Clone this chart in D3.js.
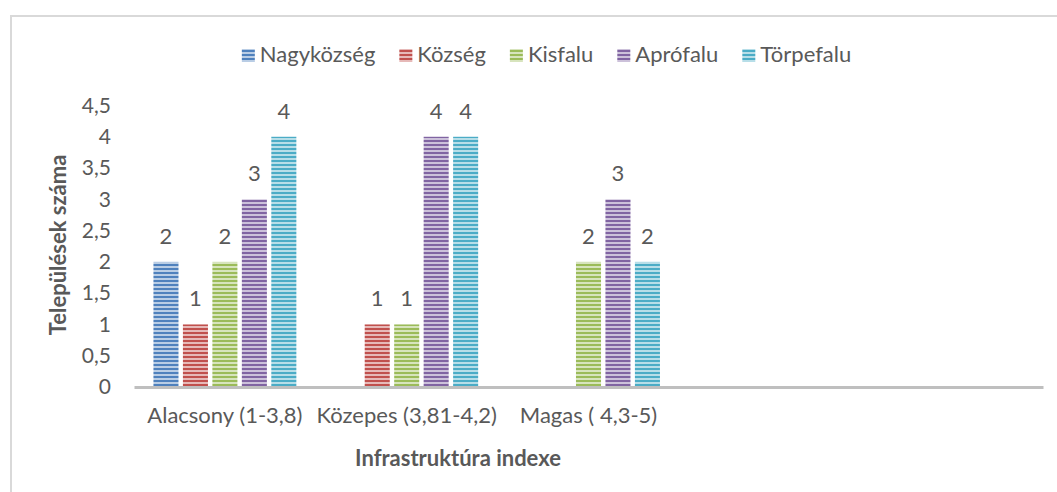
<!DOCTYPE html>
<html>
<head>
<meta charset="utf-8">
<script src="https://cdn.jsdelivr.net/npm/d3@7"></script>
<style>
  html, body { margin: 0; padding: 0; background: #fff; }
  svg { display: block; }
  text { font-family: Lato, "Open Sans", sans-serif; fill: #595959; }
</style>
</head>
<body>
<svg id="chart" width="1057" height="492"></svg>
<script>
const categories = ["Alacsony (1-3,8)", "Közepes (3,81-4,2)", "Magas ( 4,3-5)", "", ""];
const seriesNames = ["Nagyközség", "Község", "Kisfalu", "Aprófalu", "Törpefalu"];
const nagykozseg = [2, null, null, null, null];
const kozseg     = [1, 1, null, null, null];
const kisfalu    = [2, 1, 2, null, null];
const aprofalu   = [3, 4, 3, null, null];
const torpefalu  = [4, 4, 2, null, null];
const seriesValues = [nagykozseg, kozseg, kisfalu, aprofalu, torpefalu];
const seriesColors = ["#4F81BD", "#C0504D", "#9BBB59", "#8064A2", "#4BACC6"];
const yTicks = [0, 0.5, 1, 1.5, 2, 2.5, 3, 3.5, 4, 4.5];
const yTitle = "Települések száma";
const xTitle = "Infrastruktúra indexe";

const svg = d3.select("#chart");
const fmt = v => String(v).replace(".", ",");

// outer chart border (extends beyond the window on right/bottom)
svg.append("path")
  .attr("d", "M11,500 L11,16 L1070,16")
  .attr("fill", "none").attr("stroke", "#d9d9d9").attr("stroke-width", 2);

// patterns
const defs = svg.append("defs");
seriesNames.forEach((s, i) => {
  const c = seriesColors[i];
  const p = defs.append("pattern").attr("id", "pat" + i)
    .attr("patternUnits", "userSpaceOnUse").attr("width", 4).attr("height", 4);
  p.append("rect").attr("width", 4).attr("height", 4).attr("fill", d3.interpolateRgb(c, "#fff")(0.6));
  p.append("rect").attr("width", 4).attr("height", 2).attr("fill", c);
});

const x0 = d3.scaleBand().domain(d3.range(categories.length)).range([134, 1043]);
const x1 = d3.scaleBand().domain(seriesNames).range([0, x0.bandwidth()]).paddingInner(0.15).paddingOuter(0.66);
const y = d3.scaleLinear().domain([0, 4.5]).range([387, 105.5]);

// y axis labels
const yAxis = svg.append("g").attr("transform", "translate(111,0)")
  .call(d3.axisLeft(y).tickValues(yTicks).tickFormat(fmt).tickSize(0).tickPadding(0));
yAxis.select(".domain").remove();
yAxis.selectAll("text").attr("font-size", 21).attr("fill", "#595959").style("font-family", "Lato");

// bars
const groups = svg.append("g").selectAll("g").data(categories).join("g")
  .attr("transform", (d, i) => `translate(${x0(i)},0)`);
seriesNames.forEach((s, si) => {
  groups.each(function(d, ci) {
    const v = seriesValues[si][ci];
    if (v == null) return;
    const g = d3.select(this);
    g.append("rect")
      .attr("x", x1(s)).attr("width", x1.bandwidth())
      .attr("y", y(v)).attr("height", y(0) - y(v))
      .attr("fill", `url(#pat${si})`);
    g.append("text")
      .attr("x", x1(s) + x1.bandwidth() / 2).attr("y", y(v) - 18)
      .attr("text-anchor", "middle").attr("font-size", 22)
      .text(fmt(v));
  });
});

// x axis
const xAxis = svg.append("g").attr("transform", "translate(0,387)")
  .call(d3.axisBottom(x0).tickFormat(i => categories[i]).tickSize(0).tickPadding(20));
xAxis.select(".domain").attr("stroke", "#bfbfbf").attr("stroke-width", 3);
xAxis.selectAll("text").attr("font-size", 22).attr("fill", "#595959").style("font-family", "Lato");

// axis titles
svg.append("text").attr("x", 458).attr("y", 466).attr("text-anchor", "middle")
  .attr("font-size", 22).attr("font-weight", "bold").text(xTitle);
svg.append("text").attr("transform", "translate(66,245) rotate(-90)").attr("text-anchor", "middle")
  .attr("font-size", 22).attr("font-weight", "bold").text(yTitle);

// legend
const legend = svg.append("g");
let lx = 0;
seriesNames.forEach((s, i) => {
  const item = legend.append("g").attr("transform", `translate(${lx},0)`);
  item.append("rect").attr("x", 0).attr("y", -13).attr("width", 13).attr("height", 13).attr("fill", `url(#pat${i})`);
  const t = item.append("text").attr("x", 18).attr("y", 0).attr("font-size", 22).text(s);
  lx += 18 + t.node().getComputedTextLength() + 24;
});
const legendWidth = lx - 24;
legend.attr("transform", `translate(${(233 + 860) / 2 - legendWidth / 2},62)`);
</script>
</body>
</html>
